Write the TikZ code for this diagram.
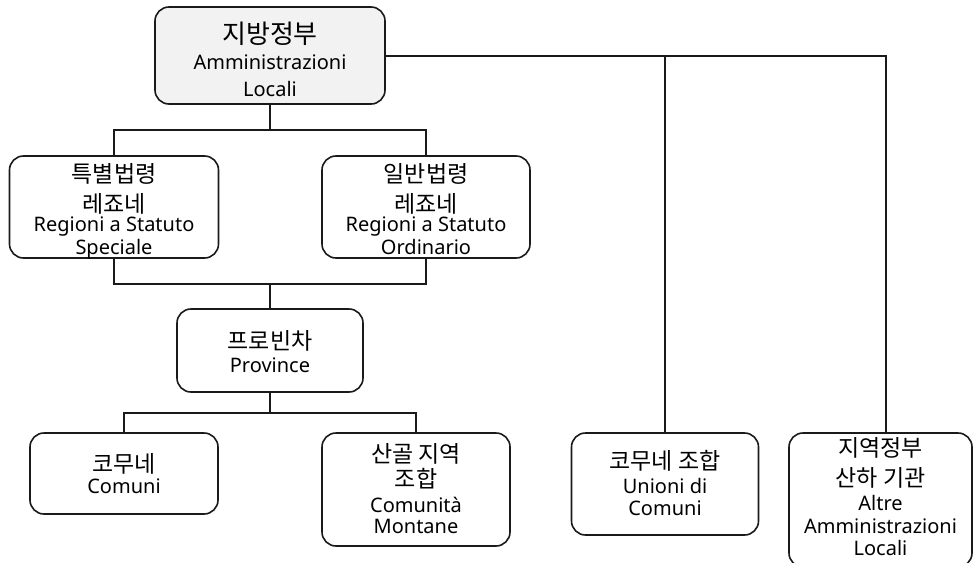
\documentclass[tikz,border=0pt]{standalone}
\usepackage{fontspec}
\setmainfont{Noto Sans}
\newfontfamily\hangfont{Noto Sans CJK KR}
\newcommand\hangA{\hangfont\fontsize{23}{23}\selectfont}
\newcommand\hangB{\hangfont\fontsize{26}{27}\selectfont}
\newcommand\latA{\fontsize{20}{23}\selectfont}
\newcommand\sm[1]{\smash{#1}}
\definecolor{topfill}{HTML}{F2F2F2}
\definecolor{lin}{HTML}{1A1A1A}
\begin{document}
\begin{tikzpicture}[x=1pt,y=-1pt,
  box/.style={draw=lin, line width=1.6pt, rounded corners=14pt, fill=white, inner sep=0pt},
  txt/.style={align=center, inner sep=0pt, font=\latA},
  conn/.style={draw=lin, line width=1.6pt}]
\useasboundingbox (0,0) rectangle (973,562);
\clip (0,0) rectangle (973,562);
% boxes
\node[box, fill=topfill, minimum width=230pt, minimum height=97pt] (top) at (270,55.5) {};
\node[box, minimum width=209pt, minimum height=102pt] (spec) at (114,207) {};
\node[box, minimum width=208pt, minimum height=102pt] (ord) at (426,207) {};
\node[box, minimum width=186pt, minimum height=83pt] (prov) at (270,350.5) {};
\node[box, minimum width=188pt, minimum height=81pt] (com) at (124,473.5) {};
\node[box, minimum width=188pt, minimum height=113pt] (mont) at (416,489.5) {};
\node[box, minimum width=187pt, minimum height=102pt] (uni) at (665,484) {};
\node[box, minimum width=183pt, minimum height=134pt] (alt) at (880.5,500) {};
% texts
\node[txt, font=\fontsize{20}{27}\selectfont, yshift=-14pt] (topT) at (top.center)
  {\sm{\hangB 지방정부}\\[-1pt]\sm{Amministrazioni}\\\sm{Locali}};
\node[txt, yshift=-11pt] (specT) at (spec.center)
  {\sm{\hangA 특별법령}\\[7pt]\sm{\hangA 레죠네}\\[-4pt]\sm{Regioni a Statuto}\\\sm{Speciale}};
\node[txt, yshift=-11pt] (ordT) at (ord.center)
  {\sm{\hangA 일반법령}\\[7pt]\sm{\hangA 레죠네}\\[-4pt]\sm{Regioni a Statuto}\\\sm{Ordinario}};
\node[txt, yshift=-10pt] (provT) at (prov.center)
  {\sm{\hangA 프로빈차}\\\sm{Province}};
\node[txt, yshift=-9pt] (comT) at (com.center)
  {\sm{\hangA 코무네}\\[-2pt]\sm{Comuni}};
\node[txt, yshift=-8pt] (montT) at (mont.center)
  {\sm{\hangA 산골 지역}\\[2pt]\sm{\hangA 조합}\\[2pt]\sm{Comunità}\\[-2pt]\sm{Montane}};
\node[txt, yshift=-8pt] (uniT) at (uni.center)
  {\sm{\hangA 코무네 조합}\\[1pt]\sm{Unioni di}\\[-1pt]\sm{Comuni}};
\node[txt, yshift=-5.5pt] (altT) at (alt.center)
  {\sm{\hangA 지역정부}\\[7pt]\sm{\hangA 산하 기관}\\[1pt]\sm{Altre}\\\sm{Amministrazioni}\\[-1pt]\sm{Locali}};
% connectors
\coordinate (j1) at (270,130);
\coordinate (j2) at (270,284);
\coordinate (j3) at (270,413);
\coordinate (r1) at (665,56);
\coordinate (r2) at (886,56);
\draw[conn] (top.south) -- (j1);
\draw[conn] (spec.north) |- (j1) -| (ord.north);
\draw[conn] (spec.south) |- (j2) -| (ord.south);
\draw[conn] (j2) -- (prov.north);
\draw[conn] (prov.south) -- (j3);
\draw[conn] (com.north) |- (j3) -| (mont.north);
\draw[conn] (top.east |- r1) -- (r2) -- (r2 |- alt.north);
\draw[conn] (r1) -- (uni.north);
\end{tikzpicture}
\end{document}
